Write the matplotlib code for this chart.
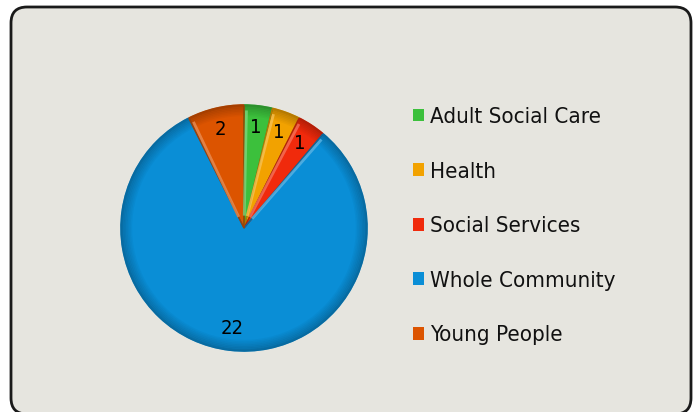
import numpy as np
import matplotlib.pyplot as plt
from matplotlib.patches import FancyBboxPatch, Wedge
from matplotlib.colors import to_rgb

plt.rcParams["font.family"] = "DejaVu Sans"
plt.rcParams["font.stretch"] = "condensed"

# Referral counts per service area
services = ["Adult Social Care", "Health", "Social Services", "Whole Community", "Young People"]
counts = [1, 1, 1, 22, 2]
colours = ["#3cc03c", "#f2a200", "#f02a0c", "#0a8ed6", "#dc5400"]

W, H = 699, 412
fig = plt.figure(figsize=(W / 100, H / 100), dpi=100)
fig.patch.set_facecolor("white")

# background axes in pixel units for the rounded panel
bg = fig.add_axes([0, 0, 1, 1], zorder=-1)
bg.set_xlim(0, W)
bg.set_ylim(0, H)
bg.axis("off")
bg.add_patch(FancyBboxPatch((11, -2), 680, 407,
                            boxstyle="round,pad=0,rounding_size=16",
                            facecolor="#e6e5df", edgecolor="#1a1a1a", linewidth=2))

# pie axes: centre (244, 228) px, radius 125 px
cx, cy, r = 244, 228, 125
ax = fig.add_axes([(cx - r) / W, (H - cy - r) / H, 2 * r / W, 2 * r / H])

wedges, texts, autotexts = ax.pie(counts, colors=colours, startangle=90,
                                  counterclock=False, radius=1,
                                  autopct=lambda p: "%d" % round(p * sum(counts) / 100),
                                  pctdistance=0.82,
                                  wedgeprops=dict(linewidth=0),
                                  textprops=dict(fontsize=14.5, color="black"))

# darker rim, edge lines and a light streak on each leading edge
for w, c in zip(wedges, colours):
    base = np.array(to_rgb(c))
    dark = base * 0.55
    for k in range(8):
        rr = 1 - k * 0.012
        ax.add_patch(Wedge((0, 0), rr, w.theta1, w.theta2, width=0.012,
                           facecolor=dark, alpha=0.55 * (1 - k / 8), linewidth=0))
    ax.add_patch(Wedge((0, 0), 0.99, w.theta1, w.theta2, facecolor="none",
                       edgecolor=np.clip(base * 0.75, 0, 1), linewidth=1.0))
    light = base + (1 - base) * 0.35
    a = np.deg2rad(w.theta2 - 1.2)
    rs = np.array([0.1, 0.95])
    ax.plot(rs * np.cos(a), rs * np.sin(a), color=light, lw=2.0,
            solid_capstyle="butt", alpha=0.75)
for t in autotexts:
    t.set_zorder(5)

ax.set_xlim(-1.01, 1.01)
ax.set_ylim(-1.01, 1.01)
ax.set_aspect("equal")
ax.axis("off")

leg = fig.legend(wedges, services, loc="upper left",
                 bbox_to_anchor=(393 / W, (H - 87) / H),
                 frameon=False, fontsize=16, labelspacing=1.555,
                 handlelength=0.5, handleheight=0.5, handletextpad=0.25)
for t in leg.get_texts():
    t.set_color("#111111")

fig.savefig("out.png", dpi=100, facecolor=fig.get_facecolor())
